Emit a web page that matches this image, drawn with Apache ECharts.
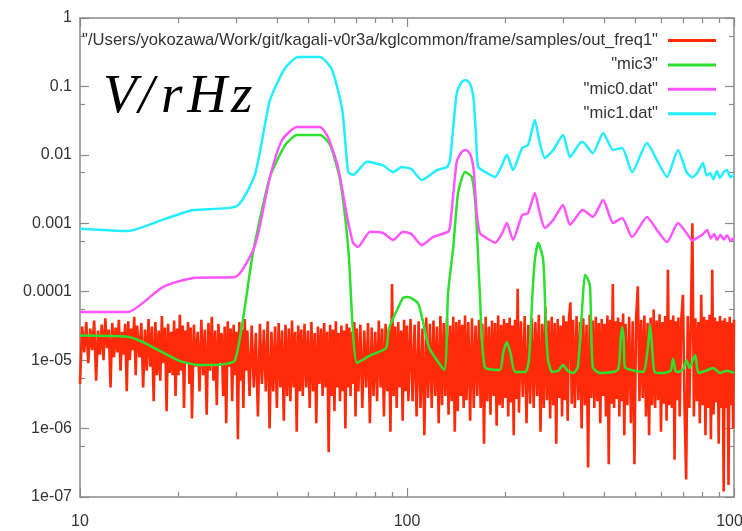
<!DOCTYPE html>
<html><head><meta charset="utf-8">
<script src="https://cdn.jsdelivr.net/npm/echarts@6/dist/echarts.min.js"></script>
<style>html,body{margin:0;padding:0;background:#fff}#c{width:742px;height:531px}</style>
</head><body><div id="c"></div>
<script>
// ---- tick labels ----
const xTickValues = [10, 100, 1000];
const xTickLabels = ['10', '100', '1000'];
const yTickValues = [1e-7, 1e-6, 1e-5, 1e-4, 1e-3, 1e-2, 1e-1, 1];
const yTickLabels = ['1e-07', '1e-06', '1e-05', '0.0001', '0.001', '0.01', '0.1', '1'];

// ---- legend names ----
const seriesNames = [
  '"/Users/yokozawa/Work/git/kagali-v0r3a/kglcommon/frame/samples/out_freq1"',
  '"mic3"', '"mic0.dat"', '"mic1.dat"'
];

// ---- out_freq1 (noise spectrum), [Hz, V/rHz] ----
const red10 = [
[10,4.5e-6],[10.15,3.1e-5],[10.3,1.3e-5],[10.45,3.6e-5],[10.6,9e-6],[10.75,2.9e-5],[10.9,1.4e-5],[11.05,3.8e-5],[11.2,5e-6],[11.35,2.7e-5],
[11.5,1.2e-5],[11.65,3.3e-5],[11.8,1e-5],[11.95,4.1e-5],[12.1,1.5e-5],[12.25,2.8e-5],[12.4,4e-6],[12.55,3.5e-5],[12.7,1.1e-5],[12.85,3e-5],
[13,1.3e-5],[13.15,3.9e-5],[13.3,7e-6],[13.45,2.6e-5],[13.6,1.2e-5],[13.75,3.4e-5],[13.9,3.5e-6],[14.05,3.7e-5],[14.2,1e-5],[14.35,2.9e-5],
[14.5,1.4e-5],[14.65,4.3e-5],[14.8,6e-6],[14.95,3.2e-5],
[15.2,1.1e-5],[15.4,3.5e-5],[15.6,4e-6],[15.8,2.8e-5],[16,7e-6],[16.2,4e-5],[16.4,8e-6],[16.6,3.1e-5],[16.8,2.5e-6],[17,3.6e-5],
[17.2,6e-6],[17.4,2.7e-5],[17.6,5e-6],[17.8,4.4e-5],[18,9e-6],[18.2,3e-5],[18.4,1.8e-6],[18.6,3.4e-5],[18.8,6.5e-6],[19,2.6e-5],
[19.2,6e-6],[19.4,3.8e-5],[19.6,3e-6],[19.8,2.9e-5],[20,6e-6],[20.2,4.6e-5],[20.4,7e-6],[20.6,3.2e-5],[20.8,2e-6],[21,2.7e-5],
[21.2,9e-6],[21.4,3.6e-5],[21.6,4.5e-6],[21.8,3e-5],[22,1.4e-6],
[22.3,3.3e-5],[22.6,8e-6],[22.9,2.6e-5],[23.2,3.5e-6],[23.5,3.9e-5],[23.8,6e-6],[24.1,2.8e-5],[24.4,1.6e-6],[24.7,3.5e-5],[25,7e-6],
[25.3,4.3e-5],[25.6,5e-6],[25.9,2.7e-5],[26.2,2.2e-6],[26.5,3.4e-5],[26.8,9e-6],[27.1,2.5e-5],[27.4,3e-6],[27.7,3.1e-5],[28,1.2e-6],
[28.3,3.7e-5],[28.6,8e-6],[28.9,2.9e-5],[29.2,2.5e-6],[29.5,3.3e-5],[29.8,6e-6],[30.1,2.6e-5],[30.4,7e-7],[30.7,3.6e-5],[31,5e-6],
[31.3,2.8e-5],[31.6,2e-6],[31.9,4e-5],[32.2,7e-6],[32.5,2.7e-5]
];
const red33 = [
[33,3e-6],[33.5,3.2e-5],[34,4e-6],[34.5,2.5e-5],[35,1.5e-6],[35.5,3.4e-5],[36,4.5e-6],[36.5,2.8e-5],[37,3.5e-6],[37.5,3.7e-5],
[38,1e-6],[38.5,2.6e-5],[39,3.5e-6],[39.5,3.1e-5],[40,2e-6],[40.5,3.5e-5],[41,4e-6],[41.5,2.7e-5],[42,1.3e-6],[42.5,3.3e-5],
[43,3e-6],[43.5,2.9e-5],[44,2.5e-6],[44.5,3.8e-5],[45,4e-6],[45.5,2.6e-5],[46,9e-7],[46.5,3.2e-5],[47,3.5e-6],[47.5,2.8e-5],[48,3e-6],
[48.6,3.4e-5],[49.2,4e-6],[49.8,2.7e-5],[50.4,2e-6],[51,3.6e-5],[51.6,3.5e-6],[52.2,2.5e-5],[52.8,1.2e-6],[53.4,3.1e-5],[54,4.5e-6],
[54.6,2.9e-5],[55.2,3e-6],[55.8,3.5e-5],[56.4,4e-6],[57,2.6e-5],[57.6,4.5e-7],[58.2,3.3e-5],[58.8,3e-6],[59.4,2.8e-5],[60,1.8e-6],
[60.6,3.7e-5],[61.2,4e-6],[61.8,2.5e-5],[62.4,2.5e-6],[63,3.2e-5],[63.6,3.5e-6],[64.2,2.7e-5],[64.8,1e-6],[65.4,3.4e-5],[66,4e-6],
[66.6,3e-5],[67.2,3e-6],[67.8,2.6e-5],[68.4,4.5e-6],[69,3.6e-5],[69.6,1.5e-6],[70.2,2.9e-5],
[71,3.5e-6],[72,3.3e-5],[73,2e-6],[74,2.7e-5],[75,4e-6],[76,3.5e-5],[77,1.2e-6],[78,3e-5],[79,3e-6],[80,2.6e-5],
[81,2.5e-6],[82,3.8e-5],[83,4e-6],[84,2.9e-5],[85,1.5e-6],[86,3.4e-5],[87,3.5e-6],[88,2.8e-5],[89,9e-7],[90,1.3e-4],
[91,3e-6],[92,3.1e-5],[93,2e-6],[94,3.6e-5],[95,4e-6],[96,2.7e-5],[97,1.3e-6],[98,3.9e-5],[99,3.5e-6],[100,3.2e-5],[101,2.5e-6]
];
const red100 = [
[102.5,4e-5],[104,2.5e-6],[105.5,3.3e-5],[107,1.5e-6],[108.5,3.7e-5],[110,2e-6],[111.5,2.9e-5],[113,8e-7],[114.5,4.2e-5],[116,2.8e-6],
[117.5,3.4e-5],[119,2e-6],[120.5,3.8e-5],[122,3e-6],[123.5,3.1e-5],[125,1.2e-6],[126.5,4.4e-5],[128,2.2e-6],[129.5,3.5e-5],[131,3e-6],
[132.5,4e-5],[134,1.6e-6],[135.5,3.2e-5],[137,2.5e-6],[138.5,4.3e-5],[140,9e-7],[141.5,3.6e-5],[143,1.8e-6],[144.5,3.9e-5],[146,3e-6],
[147.5,3.3e-5],[149,2e-6],[150.5,4.5e-5],
[152,2.6e-6],[154,3.6e-5],[156,1.3e-6],[158,4.1e-5],[160,2e-6],[162,3.2e-5],[164,3e-6],[166,3.9e-5],[168,2e-6],[170,3.4e-5],
[172,6e-7],[174,4.3e-5],[176,2.5e-6],[178,3.1e-5],[180,1.6e-6],[182,3.8e-5],[184,3e-6],[186,3.5e-5],[188,1.1e-6],[190,4.5e-5],
[192,2.2e-6],[194,3.3e-5],[196,2e-6],[198,4e-5],[200,2.8e-6],[202,3.5e-5],[204,1.5e-6],[206,4.2e-5],[208,2.4e-6],[210,3.2e-5],
[212,8e-7],[214,3.9e-5],[216,2.7e-6],[218,1.1e-4],[220,1.7e-6],
[223,3.7e-5],[226,2.9e-6],[229,4.4e-5],[232,1.2e-6],[235,3.3e-5],[238,2.3e-6],[241,4.1e-5],[244,2e-6],[247,3.6e-5],[250,3e-6],
[253,4.6e-5],[256,9e-7],[259,3.4e-5],[262,2e-6],[265,6e-5],[268,2.6e-6],[271,3.8e-5],[274,1.4e-6],[277,4.3e-5],[280,2.2e-6],
[283,3.5e-5],[286,6e-7],[289,4e-5],[292,2.8e-6],[295,3.2e-5],[298,1.5e-6],[301,4.5e-5],[304,2.6e-6],[307,3.7e-5],[310,1.3e-6],
[313,4.2e-5],[316,7e-5],[319,2.3e-6],[322,3.9e-5]
];
const red300 = [
[326,2e-6],[330,4.4e-5],[334,2.6e-6],[338,3.6e-5],[342,1e-6],[346,4.1e-5],[350,2.2e-6],[354,3.3e-5],[358,2.7e-7],[362,4.6e-5],
[366,2.8e-6],[370,3.8e-5],[374,2e-6],[378,4.3e-5],[382,2.5e-6],[386,3.5e-5],[390,1.2e-6],[394,4e-5],[398,3e-6],[402,3.4e-5],
[406,1.5e-6],[410,4.5e-5],[414,3e-7],[418,3.9e-5],[422,2.3e-6],[426,1.3e-4],[430,2e-6],[434,3.7e-5],[438,2.7e-6],[442,4.2e-5],
[446,1.5e-6],[450,3.6e-5],[454,2.5e-6],[458,4.8e-5],[462,8e-7],[466,3.4e-5],
[472,2.2e-6],[478,4.3e-5],[484,1.2e-6],[490,3.7e-5],[496,3e-7],[502,4.1e-5],[508,1.2e-4],[514,2.5e-6],[520,3.9e-5],[526,2.8e-6],
[532,4.5e-5],[538,1.5e-6],[544,3.5e-5],[550,8e-7],[556,4.2e-5],[562,2.2e-6],[568,5.5e-5],[574,2e-6],[580,3.8e-5],[586,2.6e-6],
[592,4.7e-5],[598,9e-7],[604,3.6e-5],[610,2.3e-6],[616,4.4e-5],[622,1.3e-6],[628,2.1e-4],[634,2.2e-6],[640,3.9e-5],[646,2e-6],
[652,4.5e-5],[658,3.5e-7],[664,3.7e-5],[670,2.6e-6],[676,4.2e-5],[682,1.5e-6],
[690,4e-5],[698,9e-5],[706,2e-6],[714,1.8e-7],[722,4.4e-5],[730,2e-6],[738,3.8e-5],[746,1e-3],[754,1.5e-6],[762,4.1e-5],
[770,2.5e-6],[778,3.6e-5],[786,1.2e-6],[794,9e-5],[802,2.2e-6],[810,4.3e-5],[818,8e-7],[826,3.9e-5],[834,2e-6],[842,4.6e-5],
[850,7e-7],[858,2.1e-4],[866,1.6e-6],[874,4.2e-5],[882,2.4e-6],[890,3.7e-5],[898,6e-7],[906,4.4e-5],[914,2e-6],[922,3.8e-5],
[930,1.2e-7],[938,4.1e-5],[946,2e-6],[954,3.6e-5],[962,1.5e-7],[970,4.3e-5],[978,2.2e-6],[986,3.5e-5],[994,1e-6],[1000,3.9e-5]
];

// ---- mic3 ----
const mic3 = [
[10,2.3e-5],[14,2.2e-5],[15.8,1.78e-5],[19.9,1e-5],[23,8.5e-6],[25.9,8.5e-6],[29.8,1e-5],[33.8,3.7e-4],[38.1,4.75e-3],
[42.4,0.0139],[46.1,0.0195],[54.2,0.0195],[58.2,0.0139],[62.4,4.3e-3],[66.1,4.5e-4],[70.3,9.1e-6],[77.8,1.19e-5],[86.3,1.5e-5],
[88,2.9e-5],[93.9,5.8e-5],[97.2,8.1e-5],[100.7,8.4e-5],[108,6.8e-5],[112,3.6e-5],[117,1.5e-5],[130,7.2e-6],[133.5,9.5e-5],
[138.5,4.5e-4],[143.3,2.77e-3],[150.5,5.6e-3],[157.8,4.75e-3],[162.3,1.56e-3],[167,9.5e-5],[173,7.9e-6],[192.5,7.2e-6],
[197,1.3e-5],[202,1.84e-5],[207,1.3e-5],[214,6.7e-6],[230,6.7e-6],[236,1e-5],[242,9.5e-5],[246,2.9e-4],[252,5.2e-4],[261,2.9e-4],
[266,3e-5],[270,1e-5],[278,6.7e-6],[290,7e-6],[300,8.5e-6],[310,7e-6],[322,6.5e-6],[333,7.9e-6],[344,6.8e-5],[350,1.75e-4],
[356,1.6e-4],[363,1.17e-4],[370,7.9e-6],[389,6.5e-6],[441,7.2e-6],[450,2e-5],[455,3.05e-5],[460,2e-5],[464,7.9e-6],[527,6.7e-6],
[545,1.5e-5],[554,3.3e-5],[562,1.5e-5],[572,6.7e-6],[607,6.5e-6],[640,7e-6],[651,1.05e-5],[662,7e-6],[674,6.7e-6],[700,7.5e-6],
[716,1e-5],[731,7.7e-6],[761,1.19e-5],[778,6.5e-6],[820,7e-6],[863,7.7e-6],[906,6.5e-6],[950,7e-6],[1000,6.5e-6]
];

// ---- mic0.dat ----
const mic0 = [
[10,5.05e-5],[14,5.05e-5],[17.9,1.17e-4],[22.2,1.59e-4],[29.8,1.64e-4],[34.3,4.8e-4],[38.1,4.75e-3],[41.5,0.0165],[46.1,0.0255],
[54.2,0.0255],[57.3,0.0182],[61.5,6.65e-3],[65.6,1.24e-3],[68.4,5.2e-4],[70.8,4.5e-4],[77.1,7.5e-4],[84.5,7.2e-4],[90.6,5.7e-4],
[97.2,7.5e-4],[103,7e-4],[111,4.8e-4],[120,6.3e-4],[133.5,7.5e-4],[135.4,9e-4],[138.5,2.6e-3],[142,8e-3],[147,0.011],
[150.5,0.0118],[154,0.0112],[157,9.5e-3],[160,6e-3],[163,1.6e-3],[167,7.2e-4],[176,6e-4],[186,5.2e-4],[195,7e-4],[202,1.01e-3],
[211,5.7e-4],[225,1.32e-3],[234.5,1.41e-3],[246,2.77e-3],[254,1.5e-3],[264,8.5e-4],[280,1.12e-3],[300,1.85e-3],[315,9.5e-4],
[338,1.46e-3],[345,1.56e-3],[370,1.24e-3],[398,2.19e-3],[427,1.01e-3],[455,1.19e-3],[488,6.3e-4],[542,1.24e-3],[581,8e-4],
[624,5.3e-4],[674,1.01e-3],[716,7.2e-4],[745,5.6e-4],[771,6.1e-4],[800,6.8e-4],[827,8e-4],[850,6e-4],[870,7e-4],[887,5.7e-4],
[910,6.8e-4],[930,5.8e-4],[952,6.7e-4],[975,5.6e-4],[1000,6.1e-4]
];

// ---- mic1.dat ----
const mic1 = [
[10,8.3e-4],[14,7.7e-4],[18.2,1.16e-3],[22.2,1.56e-3],[30.2,1.79e-3],[34.3,5.25e-3],[38.1,0.063],[42.4,0.186],[46.5,0.269],
[54.2,0.269],[59,0.174],[63.4,0.045],[66.1,5.6e-3],[68.4,5.1e-3],[75.5,7.9e-3],[84.5,7e-3],[90.6,5.6e-3],[96.5,6.65e-3],
[103,6.2e-3],[111,4.3e-3],[123.5,6e-3],[132.6,6.65e-3],[135.4,8.4e-3],[138.5,0.0255],[142,0.08],[147,0.116],[150.5,0.124],
[154,0.118],[157,0.1],[160,0.063],[163,0.0149],[165,6.65e-3],[175,5.5e-3],[186,4.75e-3],[195,7e-3],[202,0.01],[211,6e-3],
[225,0.0126],[234.5,0.0139],[246,0.0323],[254,0.016],[264,9e-3],[280,0.0118],[300,0.0195],[315,9.3e-3],[338,0.0149],
[345,0.0154],[370,0.0106],[398,0.0209],[427,0.0118],[455,0.0126],[488,5.6e-3],[542,0.0149],[581,8.4e-3],[624,4.75e-3],
[674,0.0118],[716,5.6e-3],[745,4.7e-3],[771,5.4e-3],[804,7.6e-3],[825,5e-3],[845,5.4e-3],[865,4.4e-3],[886,5.8e-3],
[906,4.6e-3],[930,5.6e-3],[952,6e-3],[975,4.7e-3],[1000,5.1e-3]
];

const colors = ['#ff2a0a', '#2ee02e', '#ff55ff', '#22eeff'];
const frameColor = '#8a8a8a';
const labelFont = 'Liberation Sans, Arial, sans-serif';

function xLabel(v) {
  const i = xTickValues.findIndex(t => Math.abs(Math.log10(t) - Math.log10(v)) < 1e-6);
  return i >= 0 ? xTickLabels[i] : '';
}
function yLabel(v) {
  const i = yTickValues.findIndex(t => Math.abs(Math.log10(t) - Math.log10(v)) < 1e-6);
  return i >= 0 ? yTickLabels[i] : '';
}

function xAxisCfg(pos, showLabel) {
  return {
    type: 'log', logBase: 10, min: 10, max: 1000, splitNumber: 2, position: pos,
    axisLine: { show: true, onZero: false, lineStyle: { color: frameColor, width: 1.5 } },
    axisTick: { show: true, inside: true, length: 9, lineStyle: { color: frameColor, width: 1.2 } },
    minorTick: { show: true, splitNumber: 9, length: 5, lineStyle: { color: frameColor, width: 1.2 } },
    axisLabel: { show: showLabel, margin: 17, fontSize: 16, color: '#333', fontFamily: labelFont,
                 showMinLabel: true, showMaxLabel: true, formatter: xLabel },
    splitLine: { show: false }, minorSplitLine: { show: false }
  };
}
function yAxisCfg(pos, showLabel) {
  return {
    type: 'log', logBase: 10, min: 1e-7, max: 1, splitNumber: 7, position: pos,
    axisLine: { show: true, onZero: false, lineStyle: { color: frameColor, width: 1.5 } },
    axisTick: { show: true, inside: true, length: 9, lineStyle: { color: frameColor, width: 1.2 } },
    minorTick: { show: true, splitNumber: 2, length: 5, lineStyle: { color: frameColor, width: 1.2 } },
    axisLabel: { show: showLabel, margin: 8, fontSize: 16, color: '#333', fontFamily: labelFont,
                 showMinLabel: true, showMaxLabel: true, formatter: yLabel },
    splitLine: { show: false }, minorSplitLine: { show: false }
  };
}

const mathStyle = { fontFamily: 'Liberation Serif', fontStyle: 'italic', fontWeight: 'normal', fontSize: 55, color: '#000' };

const chart = echarts.init(document.getElementById('c'), null, { renderer: 'canvas' });
chart.setOption({
  animation: false,
  backgroundColor: '#ffffff',
  grid: { left: 80, right: 8, top: 18, bottom: 34, containLabel: false, outerBoundsMode: 'none' },
  title: {
    left: 103, top: 70, padding: 0,
    text: '{a|V}{b|/}{c|r}{d|H}{e|z}',
    textStyle: {
      fontWeight: 'normal',
      rich: {
        a: Object.assign({}, mathStyle),
        b: Object.assign({ padding: [0, 7, 0, 2] }, mathStyle),
        c: Object.assign({ padding: [0, 5, 0, 0] }, mathStyle),
        d: Object.assign({ padding: [0, 4, 0, 0] }, mathStyle),
        e: Object.assign({}, mathStyle)
      }
    }
  },
  legend: {
    orient: 'vertical', right: 26, top: 32, align: 'right', padding: 0,
    icon: 'rect', itemWidth: 48, itemHeight: 3, itemGap: 7.4, selectedMode: false,
    textStyle: { fontSize: 16.6, color: '#333', fontFamily: labelFont, padding: [0, 5, 0, 0] },
    data: seriesNames
  },
  xAxis: [xAxisCfg('bottom', true), xAxisCfg('top', false)],
  yAxis: [yAxisCfg('left', true), yAxisCfg('right', false)],
  series: [
    { name: seriesNames[0], type: 'line', data: red10.concat(red33, red100, red300), showSymbol: false, symbol: 'none',
      color: colors[0], lineStyle: { width: 2.6, color: colors[0] }, z: 2 },
    { name: seriesNames[1], type: 'line', data: mic3, showSymbol: false, symbol: 'none', smooth: 0.2,
      color: colors[1], lineStyle: { width: 2.5, color: colors[1] }, z: 3 },
    { name: seriesNames[2], type: 'line', data: mic0, showSymbol: false, symbol: 'none', smooth: 0.2,
      color: colors[2], lineStyle: { width: 2.5, color: colors[2] }, z: 4 },
    { name: seriesNames[3], type: 'line', data: mic1, showSymbol: false, symbol: 'none', smooth: 0.2,
      color: colors[3], lineStyle: { width: 2.5, color: colors[3] }, z: 5 }
  ]
});
</script>
</body></html>
